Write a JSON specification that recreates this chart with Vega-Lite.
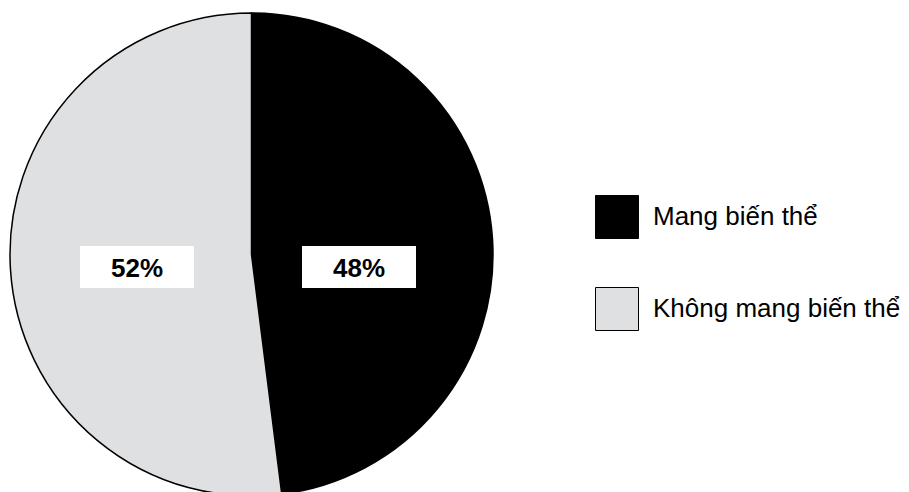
{
  "$schema": "https://vega.github.io/schema/vega-lite/v6.json",
  "width": 503,
  "height": 509,
  "padding": 0,
  "autosize": {"type": "pad"},
  "background": "white",
  "data": {
    "values": [
      {"group": "Mang biến thể", "share": 0.48},
      {"group": "Không mang biến thể", "share": 0.52}
    ]
  },
  "config": {"view": {"stroke": null}, "font": "Liberation Sans"},
  "layer": [
    {
      "mark": {"type": "arc", "outerRadius": 241.5, "stroke": "#000000", "strokeWidth": 1.5},
      "encoding": {
        "theta": {"field": "share", "type": "quantitative", "stack": true},
        "order": {"field": "group", "sort": "descending"},
        "color": {
          "field": "group",
          "type": "nominal",
          "scale": {"domain": ["Mang biến thể", "Không mang biến thể"], "range": ["#000000", "#dfe0e2"]},
          "legend": {
            "title": null,
            "orient": "none",
            "legendX": 595,
            "legendY": 195,
            "symbolType": "square",
            "symbolSize": 1849,
            "symbolStrokeColor": "#000000",
            "symbolStrokeWidth": 1,
            "symbolOpacity": 1,
            "rowPadding": 44,
            "labelFont": "Liberation Sans",
            "labelFontSize": 26,
            "labelColor": "#000000",
            "labelOffset": 14,
            "labelLimit": 400
          }
        }
      }
    },
    {
      "mark": {"type": "point", "shape": "M-1,-0.149H1V0.587H-1Z", "size": 12996, "filled": true, "fill": "#ffffff", "opacity": 1, "strokeWidth": 0},
      "encoding": {
        "x": {"field": "group", "type": "nominal", "scale": {"type": "point", "padding": 0, "domain": ["Không mang biến thể", "Mang biến thể"], "range": [137, 359]}, "axis": null}
      }
    },
    {
      "mark": {"type": "text", "font": "Liberation Sans", "fontWeight": "bold", "fontSize": 26, "color": "#000000", "baseline": "alphabetic", "align": "center", "dy": 22.5},
      "encoding": {
        "x": {"field": "group", "type": "nominal", "scale": {"type": "point", "padding": 0, "domain": ["Không mang biến thể", "Mang biến thể"], "range": [137, 359]}, "axis": null},
        "text": {"field": "share", "type": "quantitative", "format": ".0%"}
      }
    }
  ]
}
